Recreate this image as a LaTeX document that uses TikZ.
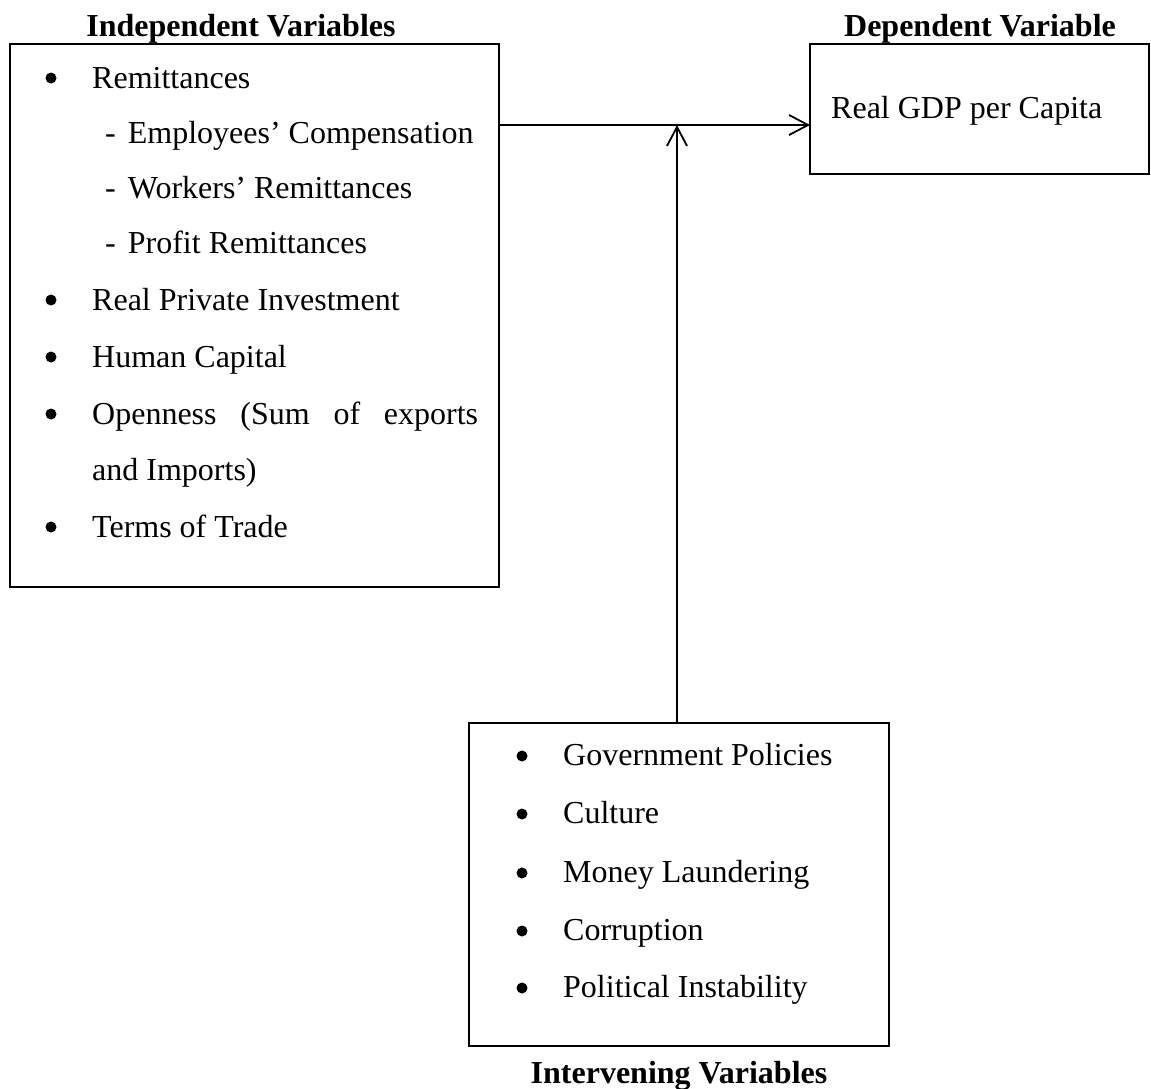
\documentclass[tikz,border=0pt]{standalone}
\usepackage{fontspec}
\setmainfont{Liberation Serif}
\usetikzlibrary{arrows.meta}
\begin{document}
\begin{tikzpicture}[x=1pt,y=-1pt,
  box/.style={draw,line width=2pt,inner sep=0pt,outer sep=0pt},
  txt/.style={anchor=base west,inner sep=0pt,font=\fontsize{32}{38}\selectfont},
  bul/.style={circle,fill,inner sep=0pt,minimum size=11pt},
  head/.style={anchor=base,inner sep=0pt,font=\fontsize{32}{38}\selectfont\bfseries},
  conn/.style={line width=1.8pt,-{Straight Barb[length=19pt,width=20pt,line width=1.8pt]}}]
\useasboundingbox (0,0) rectangle (1151,1088);
% boxes
\node[box,minimum width=489pt,minimum height=543pt] (iv) at (254.5,315.5) {};
\node[box,minimum width=339pt,minimum height=130pt] (dv) at (979.5,109) {};
\node[box,minimum width=420pt,minimum height=323pt] (mv) at (679,884.5) {};
% headings
\node[head] (hiv) at (241,36) {Independent Variables};
\node[head] (hdv) at (980,36) {Dependent Variable};
\node[head] (hmv) at (679,1083) {Intervening Variables};
% left box content
\node[bul] (b1) at (51,78) {};
\node[txt] (t1) at (92,88) {Remittances};
\node[txt] (t2) at (105,143) {-\hspace{12pt}Employees’ Compensation};
\node[txt] (t3) at (105,198) {-\hspace{12pt}Workers’ Remittances};
\node[txt] (t4) at (105,253) {-\hspace{12pt}Profit Remittances};
\node[bul] (b5) at (51,300) {};
\node[txt] (t5) at (92,310) {Real Private Investment};
\node[bul] (b6) at (51,357) {};
\node[txt] (t6) at (92,367) {Human Capital};
\node[bul] (b7) at (51,414) {};
\node[txt] (t7) at (92,424) {\makebox[386pt][s]{Openness (Sum of exports}};
\node[txt] (t8) at (92,480) {and Imports)};
\node[bul] (b9) at (51,527) {};
\node[txt] (t9) at (92,537) {Terms of Trade};
% right box content
\node[txt] (d1) at (831,118) {Real GDP per Capita};
% bottom box content
\node[bul] (m1b) at (522,756) {};
\node[txt] (m1) at (563,765) {Government Policies};
\node[bul] (m2b) at (522,814) {};
\node[txt] (m2) at (563,823) {Culture};
\node[bul] (m3b) at (522,873) {};
\node[txt] (m3) at (563,882) {Money Laundering};
\node[bul] (m4b) at (522,931) {};
\node[txt] (m4) at (563,940) {Corruption};
\node[bul] (m5b) at (522,988) {};
\node[txt] (m5) at (563,997) {Political Instability};
% connectors
\coordinate (hit) at (677,125);
\draw[conn] (iv.east |- 0,125) -- (dv.west |- 0,125);
\draw[conn] (mv.north -| hit) -- (hit);
\end{tikzpicture}
\end{document}
